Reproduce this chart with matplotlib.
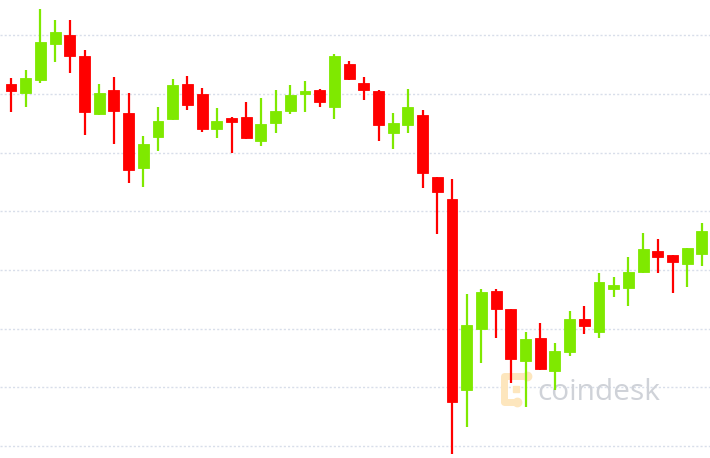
import matplotlib
matplotlib.use('Agg')
import matplotlib.pyplot as plt
import numpy as np

# OHLC (price units, gridlines every 100)
opens = [9617, 9602, 9624, 9685, 9700, 9665, 9566, 9607, 9567, 9474,
         9527, 9557, 9617, 9600, 9540, 9559, 9561, 9520, 9550, 9571,
         9600, 9607, 9578, 9651, 9619, 9605, 9533, 9547, 9564, 9458,
         9421, 9095, 9199, 9264, 9233, 9145, 9184, 9128, 9160, 9216,
         9194, 9268, 9269, 9296, 9332, 9325, 9310, 9327]
highs = [9627, 9641, 9745, 9726, 9726, 9675, 9617, 9629, 9602, 9528,
         9578, 9625, 9630, 9610, 9576, 9560, 9586, 9593, 9607, 9615,
         9622, 9608, 9668, 9656, 9629, 9606, 9567, 9608, 9573, 9459,
         9455, 9259, 9268, 9268, 9234, 9194, 9210, 9176, 9230, 9239,
         9295, 9288, 9322, 9363, 9353, 9326, 9338, 9380]
lows = [9569, 9578, 9619, 9654, 9636, 9530, 9564, 9515, 9448, 9441,
        9503, 9555, 9573, 9535, 9525, 9499, 9524, 9511, 9533, 9566,
        9569, 9578, 9557, 9624, 9590, 9520, 9506, 9533, 9440, 9361,
        8986, 9032, 9141, 9184, 9107, 9066, 9130, 9095, 9153, 9191,
        9184, 9254, 9239, 9295, 9295, 9261, 9271, 9307]
closes = [9605, 9627, 9688, 9705, 9665, 9569, 9602, 9571, 9470, 9515,
          9554, 9615, 9581, 9540, 9554, 9552, 9525, 9549, 9571, 9598,
          9605, 9586, 9665, 9625, 9607, 9547, 9550, 9578, 9465, 9433,
          9075, 9206, 9262, 9233, 9148, 9182, 9131, 9162, 9216, 9204,
          9279, 9274, 9296, 9336, 9322, 9314, 9337, 9366]
grid_levels = [9000, 9100, 9200, 9300, 9400, 9500, 9600, 9700]

up_col = '#7fe900'
down_col = '#ff0000'

fig = plt.figure(figsize=(7.1, 4.58), dpi=100)
ax = fig.add_axes([0, 0, 1, 1])

for g in grid_levels:
    ax.axhline(g, color='#d8deea', lw=1.0, ls=(0, (1.5, 1.5)), zorder=0)

# watermark
ax.text(0.757, 0.126, 'coindesk', transform=ax.transAxes, fontsize=21.5,
        color='#cfd2d8', family='Open Sans', ha='left', va='baseline', zorder=1)
ic = '#fde6bd'
ax.plot([0.710, 0.710, 0.740], [0.125, 0.180, 0.180], color=ic, lw=5,
        solid_capstyle='round', transform=ax.transAxes, zorder=1)
ax.plot([0.710, 0.728], [0.122, 0.122], color=ic, lw=5,
        solid_capstyle='round', transform=ax.transAxes, zorder=1)
ax.plot([0.727], [0.150], 's', color=ic, ms=5, transform=ax.transAxes, zorder=1)
ax.plot([0.742, 0.728], [0.180, 0.122], 'o', color=ic, ms=6,
        transform=ax.transAxes, zorder=1)

x = np.arange(len(opens))
o = np.array(opens)
c = np.array(closes)
cols = [up_col if cc >= oo else down_col for oo, cc in zip(o, c)]
ax.vlines(x, lows, highs, colors=cols, lw=1.6, zorder=2)
ax.bar(x, np.maximum(np.abs(c - o), 2), bottom=np.minimum(o, c), width=0.74,
       color=cols, edgecolor=cols, lw=0.6, zorder=3)

ax.set_xlim(-0.75, 47.55)
ax.set_ylim(8979.6, 9760)
ax.axis('off')

fig.savefig('out.png', dpi=100, facecolor='white')
